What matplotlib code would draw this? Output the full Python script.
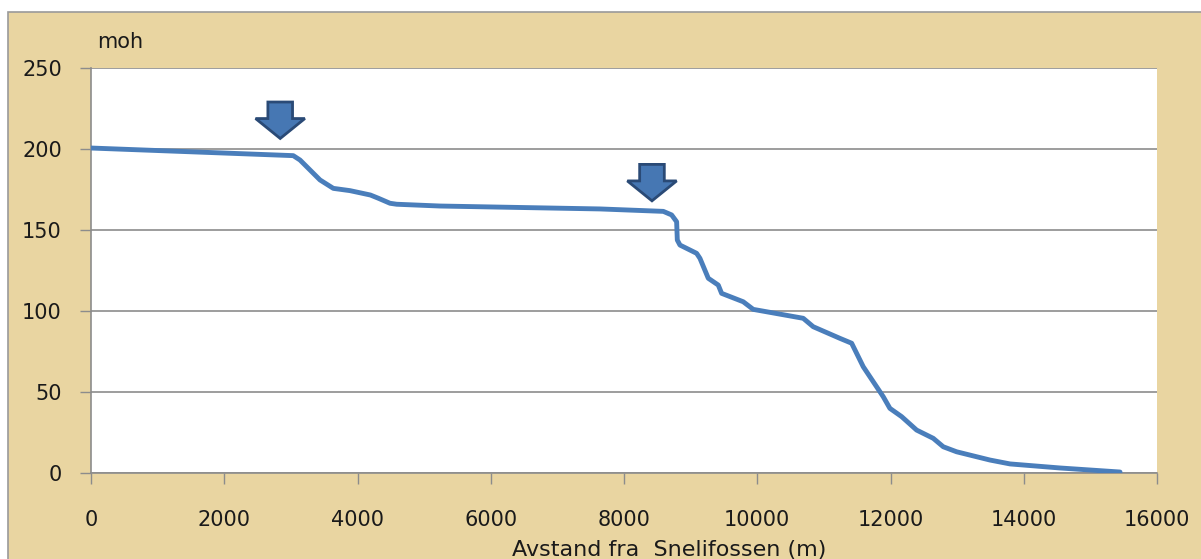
import matplotlib.pyplot as plt
from matplotlib.patches import Polygon, Rectangle

# river profile: distance from Snelifossen (m) vs elevation (moh)
dist = [0, 3036, 3137, 3437, 3637, 3887, 4193, 4313, 4488, 4588, 5238,
        7640, 8590, 8715, 8790, 8800, 8840, 9090, 9140, 9265, 9415, 9465,
        9790, 9940, 10690, 10840, 11242, 11417, 11591, 11891, 11991, 12167,
        12392, 12642, 12792, 12992, 13493, 13794, 14544, 15445]
elev = [200.6, 195.9, 193.2, 180.9, 175.7, 174.3, 171.6, 169.6, 166.5,
        165.9, 164.8, 163.0, 161.5, 159.3, 155.1, 143.8, 140.7, 135.6, 132.5,
        120.2, 116.0, 110.9, 105.7, 101.0, 95.5, 90.3, 83.1, 80.1, 65.6, 47.1,
        39.9, 34.8, 26.5, 21.4, 16.2, 13.1, 8.0, 5.6, 3.1, 0.6]

# down arrows pointing at the two marked spots
arrow_x = [2840, 8420]
arrow_tip = [206.5, 168]

xticks = [0, 2000, 4000, 6000, 8000, 10000, 12000, 14000, 16000]
yticks = [0, 50, 100, 150, 200, 250]

BLUE = '#4a7ebb'
GREY = '#8c8c8c'
PAPER = '#e9d5a1'
INK = '#1a1a1a'

plt.rcParams['font.family'] = 'DejaVu Sans'

fig = plt.figure(figsize=(12.01, 5.59), dpi=100)
fig.patch.set_facecolor('white')
# papyrus coloured chart area with a thin grey frame
fig.patches.append(Rectangle((8 / 1201, -0.05), 1.2, 1.05 - 12 / 559,
                             transform=fig.transFigure, facecolor=PAPER,
                             edgecolor='#9a9a9a', lw=1.2, zorder=-10))

ax = fig.add_axes([91 / 1201, 86 / 559, 1066 / 1201, 405 / 559])
ax.set_facecolor('white')
ax.plot(dist, elev, color=BLUE, lw=3.5, solid_capstyle='round',
        solid_joinstyle='round', zorder=3)

# arrow shapes in data units
for x, tip in zip(arrow_x, arrow_tip):
    head_w, shaft_w = 370, 185
    head_h, shaft_h = 12.3, 10.2
    pts = [(x - shaft_w, tip + head_h + shaft_h), (x + shaft_w, tip + head_h + shaft_h),
           (x + shaft_w, tip + head_h), (x + head_w, tip + head_h), (x, tip),
           (x - head_w, tip + head_h), (x - shaft_w, tip + head_h)]
    ax.add_patch(Polygon(pts, closed=True, facecolor='#4677b3',
                         edgecolor='#2a4a76', lw=2.0, joinstyle='miter', zorder=4))

ax.set_xlim(0, 16000)
ax.set_ylim(0, 250)
ax.set_xticks(xticks)
ax.set_yticks(yticks)
ax.yaxis.grid(True, color=GREY, lw=1.2)
ax.set_axisbelow(True)
for s in ['top', 'right']:
    ax.spines[s].set_visible(False)
for s in ['left', 'bottom']:
    ax.spines[s].set_color(GREY)
    ax.spines[s].set_linewidth(1.2)
ax.tick_params(axis='x', length=8, width=1.0, color=GREY, pad=19,
               labelsize=15, labelcolor=INK)
ax.tick_params(axis='y', length=8, width=1.0, color=GREY, pad=13,
               labelsize=15, labelcolor=INK)

fig.text(97 / 1201, 1 - 42 / 559, 'moh', fontsize=15, color=INK,
         ha='left', va='center')
fig.text(669 / 1201, 3 / 559, 'Avstand fra  Snelifossen (m)', fontsize=16,
         color=INK, ha='center', va='baseline')

fig.savefig('out.png', dpi=100, facecolor=fig.get_facecolor())
